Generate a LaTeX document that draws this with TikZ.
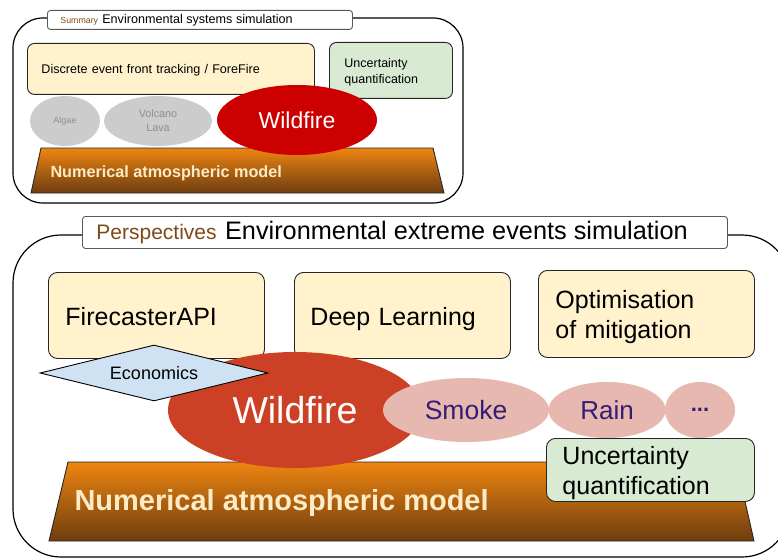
\documentclass[tikz,border=0pt]{standalone}
\usepackage{fontspec}
\setmainfont{Liberation Sans}
\usetikzlibrary{shapes.geometric}
\definecolor{ybox}{HTML}{FFF2CC}
\definecolor{gbox}{HTML}{D9EAD3}
\definecolor{bdiam}{HTML}{CFE2F3}
\definecolor{greyell}{HTML}{CCCCCC}
\definecolor{greytxt}{HTML}{8F8F8F}
\definecolor{redtop}{HTML}{CC0000}
\definecolor{redbot}{HTML}{CC4125}
\definecolor{pinkell}{HTML}{E6B8AF}
\definecolor{purptxt}{HTML}{351C75}
\definecolor{browntxt}{HTML}{7F4A1A}
\definecolor{trtop}{HTML}{EE8510}
\definecolor{trbot}{HTML}{6E3D0F}
\definecolor{cream}{HTML}{FDEBC6}
\newcommand\fsz[2]{\fontsize{#1}{#2}\selectfont\spaceskip=0pt\xspaceskip=0pt\relax}
\newcommand\twol[3]{\raisebox{-#1}[\height][\depth]{\begin{tabular}[c]{@{}l@{}}#2\\#3\end{tabular}}}
\newcommand\lowr[2]{\raisebox{-#1}[\height][\depth]{#2}}
\begin{document}
\begin{tikzpicture}[x=1pt,y=-1pt,
  frame/.style={draw=black, line width=1.2pt, fill=white},
  titlebox/.style={draw=black!65, line width=0.9pt, fill=white, rounded corners=3pt,
    anchor=north west, inner ysep=0pt, align=left},
  box/.style={draw=black!85, line width=0.9pt, rounded corners=9pt, anchor=north west,
    inner ysep=0pt, align=left},
  ell/.style={ellipse, inner sep=0pt, align=center},
  trap/.style={draw=black!85, line width=0.9pt, top color=trtop, bottom color=trbot}
]
\useasboundingbox (0,0) rectangle (778,559);
\clip (0,0) rectangle (778,559);

% ---------- top panel ----------
\draw[frame, rounded corners=30pt] (13,18) rectangle (463,203);
\node[titlebox, minimum width=305pt, minimum height=19pt, inner xsep=13pt, text width=279pt, font=\fsz{12.6}{14}]
  (ttitle) at (47,10) {{\color{browntxt}\fsz{8.8}{10}Summary} \fsz{12.6}{14}Environmental systems simulation};

\node[box, fill=ybox, rounded corners=7pt, minimum width=287pt, minimum height=51pt, inner xsep=14pt, text width=259pt, font=\fsz{12.6}{15}]
  (dev) at (27,43) {\lowr{1.5pt}{Discrete event front tracking / ForeFire}};
\node[box, fill=gbox, rounded corners=7pt, minimum width=123pt, minimum height=56pt, inner xsep=15pt, text width=93pt, font=\fsz{12.5}{16}]
  (uq1) at (329,42) {\twol{2pt}{Uncertainty}{quantification}};

\draw[trap] (41,148) coordinate (t1a) -- (433,148) coordinate (t1b) -- (444,193) coordinate (t1c) -- (31,193) coordinate (t1d) -- cycle;
\node[anchor=west, text=cream, font=\bfseries\fsz{16.2}{18}] (nam1) at (47,173) {Numerical atmospheric model};

\node[ell, fill=greyell, minimum width=70pt, minimum height=50pt, text=greytxt, font=\fsz{9}{11}] (algae) at (65,121) {Algae};
\node[ell, fill=greyell, minimum width=108pt, minimum height=50pt, text=greytxt, font=\fsz{10.8}{14}] (lava) at (158,121) {Volcano\\Lava};
\node[ell, fill=redtop, minimum width=160pt, minimum height=70pt, text=white, font=\fsz{23}{26}] (wf1) at (297,120) {Wildfire};

% ---------- bottom panel ----------
\draw[frame, rounded corners=48pt] (13,235) rectangle (790,557);
\node[titlebox, minimum width=645pt, minimum height=32pt, inner xsep=14pt, text width=617pt, font=\fsz{25.3}{28}]
  (btitle) at (82,216) {{\color{browntxt}\fsz{21}{24}Perspectives} \fsz{25.3}{28}Environmental extreme events simulation};

\node[box, fill=ybox, minimum width=216pt, minimum height=86pt, inner xsep=17pt, text width=182pt, font=\fsz{25}{30}]
  (fapi) at (48,272) {\lowr{1pt}{FirecasterAPI}};
\node[box, fill=ybox, minimum width=216pt, minimum height=86pt, inner xsep=16pt, text width=184pt, font=\fsz{25}{30}]
  (dl) at (294,272) {\lowr{3.5pt}{Deep Learning}};
\node[box, fill=ybox, minimum width=216pt, minimum height=87pt, inner xsep=17pt, text width=182pt, font=\fsz{25}{30}]
  (opt) at (538,270) {\twol{4pt}{Optimisation}{of mitigation}};

\draw[trap] (68,462) coordinate (t2a) -- (736,462) coordinate (t2b) -- (754,541) coordinate (t2c) -- (49,541) coordinate (t2d) -- cycle;
\node[anchor=west, text=cream, font=\bfseries\fsz{29}{32}] (nam2) at (71,503) {Numerical atmospheric model};

\node[ell, fill=redbot, minimum width=254pt, minimum height=116pt, text=white, font=\fsz{37.5}{40}] (wf2) at (295,410) {Wildfire};
\node[ell, fill=pinkell, minimum width=166pt, minimum height=64pt, text=purptxt, font=\fsz{26.5}{30}] (smoke) at (466,410) {Smoke};
\node[ell, fill=pinkell, minimum width=117pt, minimum height=56pt, text=purptxt, font=\fsz{26}{30}] (rain) at (607,410) {Rain};
\node[ell, fill=pinkell, minimum width=70pt, minimum height=56pt, text=purptxt, font=\bfseries\fsz{22}{26}] (more) at (700,410) {...};

\node[box, fill=gbox, minimum width=208pt, minimum height=63pt, inner xsep=16pt, text width=176pt, font=\fsz{25}{30}]
  (uq2) at (546,438) {\twol{4pt}{Uncertainty}{quantification}};

\node[diamond, draw=black, line width=0.9pt, fill=bdiam, aspect=4.07, inner sep=0pt,
  minimum width=228pt, minimum height=56pt, font=\fsz{18}{20}] (econ) at (154,373) {Economics};
\end{tikzpicture}
\end{document}
